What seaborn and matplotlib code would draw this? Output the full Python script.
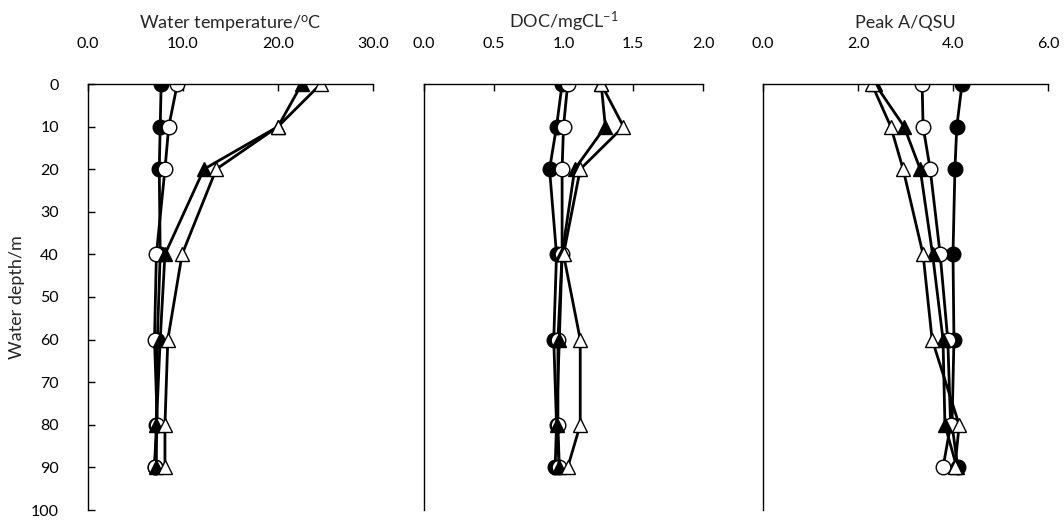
import matplotlib
matplotlib.use("Agg")
import matplotlib.pyplot as plt
import seaborn as sns
import pandas as pd
from matplotlib.ticker import FormatStrFormatter

sns.set_theme(style="white")
plt.rcParams['font.family'] = ['Lato', 'DejaVu Sans']
plt.rcParams['mathtext.default'] = 'regular'

depth = [0, 10, 20, 40, 60, 80, 90]
series_names = ["S1", "S2", "S3", "S4"]  # filled circle, open circle, filled triangle, open triangle

temp_s1 = [7.7, 7.6, 7.5, 7.6, 7.3, 7.2, 7.0]
temp_s2 = [9.4, 8.5, 8.1, 7.2, 7.0, 7.3, 7.0]
temp_s3 = [22.5, 20.0, 12.2, 8.1, 7.6, 7.2, 7.2]
temp_s4 = [24.5, 20.0, 13.5, 9.9, 8.4, 8.1, 8.1]

doc_s1 = [0.99, 0.95, 0.90, 0.95, 0.93, 0.95, 0.94]
doc_s2 = [1.03, 1.00, 0.99, 0.99, 0.96, 0.96, 0.97]
doc_s3 = [1.27, 1.30, 1.08, 0.99, 0.97, 0.95, 0.97]
doc_s4 = [1.27, 1.43, 1.12, 1.00, 1.12, 1.12, 1.03]

peak_s1 = [4.19, 4.08, 4.04, 4.00, 4.02, 3.98, 4.10]
peak_s2 = [3.35, 3.37, 3.52, 3.73, 3.89, 3.95, 3.79]
peak_s3 = [2.36, 2.97, 3.31, 3.57, 3.79, 3.83, 4.08]
peak_s4 = [2.29, 2.69, 2.95, 3.37, 3.56, 4.13, 4.04]

panels = [
    ("Water temperature/$^{o}$C", [temp_s1, temp_s2, temp_s3, temp_s4], (0, 30), [0, 10, 20, 30]),
    ("DOC/mgCL$^{-1}$", [doc_s1, doc_s2, doc_s3, doc_s4], (0, 2), [0, 0.5, 1.0, 1.5, 2.0]),
    ("Peak A/QSU", [peak_s1, peak_s2, peak_s3, peak_s4], (0, 6), [0, 2, 4, 6]),
]

styles = {
    "S1": dict(marker="o", markerfacecolor="black"),
    "S2": dict(marker="o", markerfacecolor="white"),
    "S3": dict(marker="^", markerfacecolor="black"),
    "S4": dict(marker="^", markerfacecolor="white"),
}

fig = plt.figure(figsize=(10.64, 5.20), dpi=100)
positions = [
    [88 / 1064, 10 / 520, 285 / 1064, 426 / 520],
    [424 / 1064, 10 / 520, 279 / 1064, 426 / 520],
    [763 / 1064, 10 / 520, 285 / 1064, 426 / 520],
]

for i, (title, vals, xlim, xticks) in enumerate(panels):
    ax = fig.add_axes(positions[i])
    for name, v in zip(series_names, vals):
        df = pd.DataFrame({"value": v, "depth": depth})
        st = styles[name]
        sns.lineplot(data=df, x="value", y="depth", orient="y", estimator=None,
                     ax=ax, color="black", linewidth=2.0,
                     marker=st["marker"], markersize=10.5,
                     markerfacecolor=st["markerfacecolor"],
                     markeredgecolor="black", markeredgewidth=1.0,
                     legend=False)
    ax.set_xlim(*xlim)
    ax.set_ylim(100, 0)
    ax.set_xticks(xticks)
    ax.xaxis.set_major_formatter(FormatStrFormatter("%.1f"))
    ax.xaxis.tick_top()
    ax.xaxis.set_label_position("top")
    ax.set_xlabel(title, fontsize=13, labelpad=6)
    ax.set_ylabel("")
    for s in ["right", "bottom"]:
        ax.spines[s].set_visible(False)
    for s in ["left", "top"]:
        ax.spines[s].set_color("black")
        ax.spines[s].set_linewidth(1.0)
    ax.tick_params(axis="x", which="both", direction="in", length=5, width=1,
                   top=True, bottom=False, labeltop=True, labelbottom=False,
                   labelsize=11.5, pad=24, colors="black")
    if i == 0:
        ax.set_yticks(range(0, 101, 10))
        ax.tick_params(axis="y", direction="in", length=5, width=1, left=True,
                       labelsize=11.5, pad=21, colors="black")
        ax.set_ylabel("Water depth/m", fontsize=13, labelpad=4)
    else:
        ax.set_yticks([])
    ax.grid(False)

fig.savefig("out.png", dpi=100)
